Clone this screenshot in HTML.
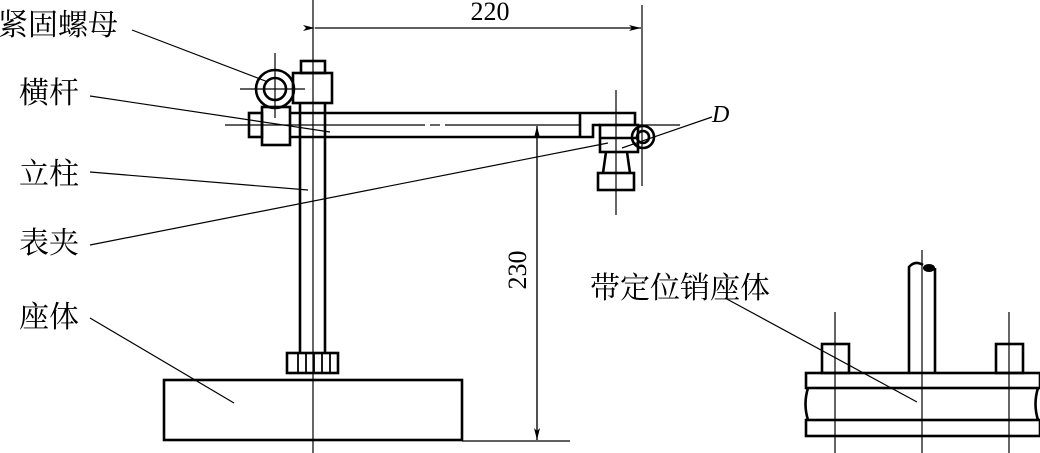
<!DOCTYPE html>
<html><head><meta charset="utf-8"><style>
html,body{margin:0;padding:0;background:#fff;}
svg{display:block;}
text{font-family:"Liberation Serif","Noto Serif CJK SC",serif;fill:#000;}
</style></head><body>
<svg width="1040" height="453" viewBox="0 0 1040 453" xmlns="http://www.w3.org/2000/svg">
<defs>
<marker id="ar" viewBox="0 0 12 6" refX="12" refY="3" markerWidth="12" markerHeight="6" orient="auto" markerUnits="userSpaceOnUse"><path d="M0,0 L12,3 L0,6 L3,3z" fill="#000"/></marker>
</defs>
<g fill="none" stroke="#000">
<!-- thin lines -->
<g stroke-width="1.2">
<line x1="313" y1="0" x2="313" y2="453"/>
<line x1="642" y1="5" x2="642" y2="186"/>
<line x1="315" y1="28" x2="641" y2="28" marker-start="url(#ar)" marker-end="url(#ar)"/>
<line x1="537" y1="440" x2="537" y2="126" marker-end="url(#ar)"/>
<line x1="537" y1="126" x2="537" y2="440" marker-end="url(#ar)"/>
<line x1="462" y1="441" x2="570" y2="441"/>
<line x1="275" y1="53" x2="275" y2="118"/>
<line x1="240" y1="89" x2="305" y2="89"/>
<line x1="225" y1="125" x2="290" y2="125"/>
<line x1="290" y1="125" x2="425" y2="125"/>
<line x1="430" y1="125" x2="440" y2="125"/>
<line x1="445" y1="125" x2="580" y2="125"/>
<line x1="616" y1="90" x2="616" y2="215"/>
<line x1="600" y1="125" x2="680" y2="125"/>
<!-- leaders -->
<line x1="132" y1="30" x2="268" y2="82"/>
<line x1="90" y1="96" x2="330" y2="132"/>
<line x1="90" y1="172" x2="308" y2="190"/>
<line x1="90" y1="245" x2="608" y2="143"/>
<line x1="90" y1="318" x2="234" y2="403"/>
<line x1="622" y1="148" x2="712" y2="117"/>
<line x1="725" y1="298" x2="917" y2="402"/>
<!-- right fig centerlines -->
<line x1="922" y1="250" x2="922" y2="453"/>
<line x1="835" y1="312" x2="835" y2="453"/>
<line x1="1009" y1="312" x2="1009" y2="453"/>
</g>
<!-- thick lines -->
<g stroke-width="2.6">
<circle cx="275" cy="89" r="19"/>
<circle cx="275" cy="89" r="11"/>
<rect x="301" y="61" width="24" height="12"/>
<rect x="293" y="73" width="39" height="30"/>
<line x1="300" y1="103" x2="300" y2="353"/>
<line x1="325" y1="103" x2="325" y2="353"/>
<rect x="249" y="113" width="13" height="24"/>
<rect x="262" y="107" width="28" height="38"/>
<path d="M290,113 H635 V125"/>
<path d="M290,137 H593 V125 H600"/>
<line x1="580" y1="113" x2="580" y2="137"/>
<rect x="600" y="125" width="38" height="27"/>
<line x1="600" y1="138" x2="638" y2="138"/>
<circle cx="643" cy="137" r="11"/>
<circle cx="643" cy="137" r="6"/>
<path d="M606,152 L603,173 M627,152 L630,173"/>
<rect x="598" y="173" width="36" height="17"/>
<rect x="287" y="353" width="51" height="20"/>
<path d="M298,353V373M306,353V373M314,353V373M322,353V373M330,353V373" stroke-width="1.8"/>
<rect x="164" y="380" width="298" height="60"/>
<!-- right figure -->
<rect x="806" y="373" width="234" height="15"/>
<rect x="806" y="420" width="234" height="16"/>
<path d="M808,388 Q803,404 808,420"/>
<path d="M1038,388 Q1033,404 1038,420"/>
<path d="M909,372 V267 Q915,260 923,265 M935,372 V268"/>
<rect x="822" y="344" width="27" height="29"/>
<rect x="996" y="344" width="27" height="29"/>
</g>
<ellipse cx="929" cy="268" rx="6" ry="4" fill="#000" stroke="none"/>
</g>
<text x="490" y="20" font-size="26" text-anchor="middle">220</text>
<text x="0" y="0" font-size="26" text-anchor="middle" transform="translate(526,270) rotate(-90)">230</text>
<text x="712" y="122" font-size="24" font-style="italic">D</text>
<text x="-2" y="35" font-size="30">紧固螺母</text>
<text x="19" y="103" font-size="30">横杆</text>
<text x="19" y="184" font-size="30">立柱</text>
<text x="19" y="253" font-size="30">表夹</text>
<text x="19" y="327" font-size="30">座体</text>
<text x="590" y="298" font-size="30">带定位销座体</text>
</svg>
</body></html>
